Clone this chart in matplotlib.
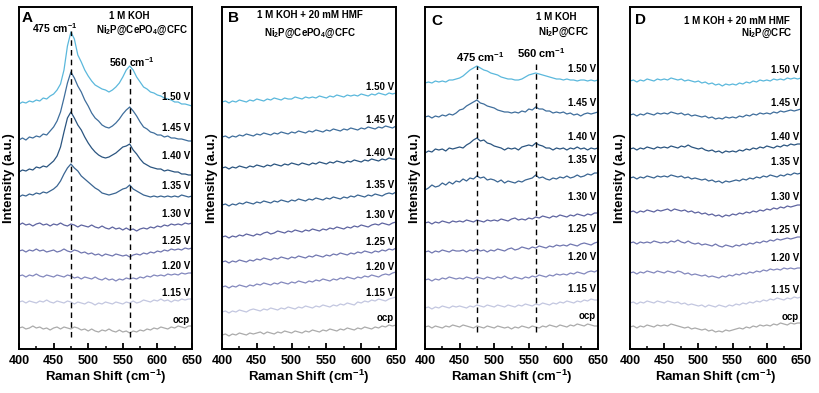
import matplotlib
matplotlib.use('Agg')
import matplotlib.pyplot as plt
from matplotlib.ticker import MultipleLocator
import numpy as np

plt.rcParams['font.family'] = ['Liberation Sans', 'DejaVu Sans']
plt.rcParams['font.weight'] = 'bold'
plt.rcParams['mathtext.fontset'] = 'custom'
plt.rcParams['mathtext.rm'] = 'Liberation Sans:bold'
plt.rcParams['mathtext.it'] = 'Liberation Sans:bold'
plt.rcParams['mathtext.bf'] = 'Liberation Sans:bold'

# Raman shift grid (cm-1)
shift = np.arange(400, 651, 5)
potentials = ['1.50 V', '1.45 V', '1.40 V', '1.35 V', '1.30 V', '1.25 V', '1.20 V', '1.15 V', 'ocp']
colors = ['#5bb8dc', '#3f6e9c', '#2b5580', '#3a6592', '#5e64a0', '#7177b0', '#8388bd', '#c3c7e0', '#ababab']

# stacked spectra (a.u.), top to bottom in the order of `potentials`
spec_a = [
    [245, 247, 246, 248, 247, 249, 248, 251, 250, 253, 255, 259, 265, 279, 303, 317, 310, 294, 287, 279,
     273, 268, 264, 262, 260, 259, 257, 259, 262, 266, 272, 279, 283, 279, 272, 267, 262, 260, 257, 256,
     254, 253, 251, 250, 249, 247, 247, 245, 245, 244, 243],
    [209, 211, 209, 212, 211, 213, 212, 215, 214, 218, 222, 228, 237, 251, 266, 277, 271, 263, 257, 249,
     243, 236, 231, 228, 224, 222, 221, 223, 226, 230, 235, 239, 242, 238, 233, 227, 222, 220, 217, 216,
     214, 214, 212, 213, 211, 211, 210, 210, 209, 208, 208],
    [177, 179, 178, 180, 179, 182, 181, 183, 182, 185, 188, 193, 202, 217, 231, 237, 231, 224, 219, 212,
     206, 201, 197, 194, 192, 191, 192, 194, 196, 199, 202, 203, 205, 199, 195, 190, 186, 184, 182, 181,
     180, 180, 178, 179, 178, 177, 177, 175, 175, 174, 174],
    [152, 154, 153, 155, 154, 156, 155, 157, 156, 158, 160, 163, 168, 175, 181, 185, 181, 178, 173, 170,
     167, 164, 161, 159, 156, 155, 154, 155, 156, 158, 160, 161, 164, 160, 158, 156, 154, 153, 152, 153,
     152, 153, 152, 153, 152, 153, 152, 154, 153, 152, 153],
    [124, 126, 124, 125, 123, 125, 126, 124, 125, 123, 125, 124, 126, 124, 123, 125, 124, 122, 124, 123,
     122, 124, 122, 121, 123, 121, 120, 122, 120, 121, 119, 121, 119, 120, 118, 120, 121, 120, 122, 121,
     123, 122, 124, 123, 125, 124, 125, 124, 126, 125, 126],
    [98, 99, 97, 99, 98, 100, 98, 99, 97, 98, 99, 97, 98, 100, 98, 97, 99, 98, 96, 97,
     95, 96, 94, 95, 93, 95, 94, 93, 95, 94, 93, 94, 92, 94, 95, 94, 96, 95, 97, 96,
     98, 97, 99, 98, 100, 99, 100, 99, 101, 100, 101],
    [73, 74, 72, 74, 73, 75, 73, 72, 74, 73, 72, 74, 73, 72, 74, 73, 71, 72, 70, 72,
     71, 70, 72, 70, 69, 71, 69, 70, 68, 70, 69, 71, 70, 71, 70, 72, 71, 73, 72, 74,
     73, 74, 73, 75, 74, 75, 74, 76, 75, 76, 76],
    [47, 48, 46, 48, 47, 46, 48, 47, 49, 47, 46, 48, 47, 46, 48, 47, 45, 47, 46, 45,
     47, 46, 44, 46, 45, 47, 46, 45, 47, 46, 45, 47, 46, 48, 46, 47, 49, 48, 47, 49,
     48, 50, 48, 49, 47, 49, 48, 50, 49, 50, 50],
    [21, 22, 20, 21, 23, 21, 22, 20, 21, 19, 21, 22, 20, 22, 21, 20, 22, 21, 19, 20,
     18, 20, 18, 17, 19, 18, 20, 18, 17, 19, 17, 18, 16, 18, 17, 19, 18, 20, 19, 21,
     20, 22, 21, 20, 22, 21, 23, 22, 21, 23, 23],
]

spec_b = [
    [247, 248, 246, 248, 247, 249, 248, 247, 249, 248, 250, 249, 248, 250, 249, 251, 250, 249, 251, 250,
     250, 252, 251, 250, 252, 251, 252, 251, 253, 252, 251, 253, 252, 254, 253, 252, 254, 253, 254, 253,
     255, 254, 253, 255, 254, 256, 255, 254, 256, 255, 256],
    [212, 213, 211, 213, 212, 214, 213, 215, 214, 213, 215, 214, 216, 215, 214, 216, 215, 217, 216, 215,
     217, 216, 218, 217, 216, 218, 217, 219, 218, 217, 219, 218, 220, 219, 218, 220, 219, 221, 220, 219,
     221, 220, 222, 221, 220, 222, 221, 223, 222, 221, 223],
    [181, 182, 180, 182, 181, 183, 182, 181, 183, 182, 184, 183, 182, 184, 183, 185, 184, 183, 185, 184,
     186, 185, 184, 186, 185, 184, 186, 185, 187, 186, 185, 187, 186, 188, 187, 186, 188, 187, 189, 188,
     187, 189, 188, 190, 189, 188, 190, 189, 191, 190, 190],
    [144, 145, 143, 145, 144, 146, 145, 147, 146, 145, 147, 146, 148, 147, 146, 148, 147, 149, 148, 147,
     149, 148, 150, 149, 148, 150, 149, 151, 150, 149, 151, 150, 152, 151, 150, 152, 151, 153, 152, 154,
     153, 152, 154, 153, 155, 154, 153, 155, 156, 155, 157],
    [112, 113, 111, 113, 112, 114, 113, 115, 114, 113, 115, 114, 116, 117, 115, 116, 118, 117, 116, 118,
     117, 119, 118, 117, 119, 118, 120, 119, 118, 120, 119, 121, 120, 122, 121, 120, 122, 121, 123, 122,
     124, 123, 122, 124, 125, 124, 126, 125, 124, 126, 127],
    [87, 88, 86, 88, 87, 89, 88, 87, 89, 88, 90, 89, 91, 90, 89, 91, 90, 92, 91, 90,
     92, 91, 93, 92, 91, 93, 92, 94, 93, 92, 94, 93, 95, 94, 96, 95, 94, 96, 95, 97,
     96, 98, 97, 96, 98, 97, 99, 98, 100, 99, 101],
    [62, 63, 61, 63, 62, 64, 63, 62, 64, 63, 65, 64, 66, 65, 64, 66, 65, 67, 66, 65,
     67, 66, 68, 67, 66, 68, 67, 69, 68, 70, 69, 68, 70, 69, 71, 70, 72, 71, 70, 72,
     71, 73, 72, 74, 73, 72, 74, 75, 74, 76, 77],
    [37, 38, 36, 38, 37, 39, 38, 37, 39, 40, 39, 38, 40, 39, 41, 40, 39, 41, 40, 42,
     41, 40, 42, 41, 43, 42, 41, 43, 42, 44, 43, 42, 44, 43, 45, 44, 46, 45, 44, 47,
     46, 48, 47, 49, 48, 50, 49, 48, 50, 51, 52],
    [14, 15, 13, 15, 14, 16, 15, 14, 16, 15, 16, 17, 15, 17, 16, 15, 17, 16, 18, 17,
     16, 18, 17, 16, 18, 17, 19, 18, 17, 19, 18, 20, 19, 18, 20, 19, 21, 20, 19, 21,
     20, 22, 21, 20, 22, 21, 23, 22, 24, 23, 24],
]

spec_c = [
    [266, 267, 266, 268, 267, 268, 267, 269, 269, 270, 271, 273, 276, 279, 281, 283, 281, 279, 278, 276,
     275, 274, 272, 271, 270, 270, 269, 269, 270, 272, 274, 275, 276, 275, 274, 273, 272, 271, 270, 270,
     269, 270, 269, 269, 268, 269, 269, 268, 269, 268, 269],
    [232, 233, 231, 233, 232, 234, 233, 235, 234, 236, 239, 240, 243, 245, 247, 249, 246, 245, 243, 242,
     241, 239, 238, 237, 237, 236, 237, 236, 238, 237, 240, 239, 242, 240, 240, 238, 238, 236, 237, 236,
     237, 235, 236, 234, 235, 233, 235, 236, 235, 236, 237],
    [196, 198, 197, 200, 199, 200, 198, 201, 200, 201, 202, 201, 204, 206, 209, 211, 208, 209, 206, 205,
     203, 202, 201, 199, 201, 200, 201, 199, 202, 203, 204, 203, 206, 204, 203, 201, 201, 199, 201, 200,
     201, 199, 201, 200, 202, 200, 201, 199, 201, 200, 201],
    [159, 161, 164, 162, 163, 166, 164, 167, 165, 168, 167, 170, 168, 171, 170, 173, 171, 172, 169, 170,
     169, 167, 169, 166, 168, 167, 166, 168, 167, 169, 170, 171, 174, 171, 172, 170, 169, 171, 170, 172,
     171, 173, 171, 172, 174, 172, 173, 175, 174, 176, 176],
    [126, 127, 125, 127, 126, 128, 127, 126, 128, 127, 128, 127, 129, 128, 127, 129, 128, 127, 129, 128,
     129, 128, 130, 129, 128, 130, 131, 129, 130, 129, 131, 130, 132, 131, 133, 132, 131, 133, 132, 134,
     133, 132, 134, 133, 135, 134, 133, 135, 134, 136, 136],
    [97, 98, 96, 98, 97, 99, 98, 97, 99, 98, 98, 99, 97, 99, 98, 100, 98, 99, 97, 99,
     98, 100, 99, 98, 100, 101, 99, 100, 102, 101, 100, 102, 101, 103, 102, 101, 103, 102, 104, 103,
     104, 103, 105, 104, 103, 105, 106, 105, 104, 106, 107],
    [69, 70, 68, 70, 69, 71, 70, 72, 71, 70, 71, 70, 72, 71, 70, 72, 71, 70, 72, 71,
     70, 72, 71, 73, 71, 70, 72, 71, 70, 72, 71, 73, 72, 74, 73, 72, 74, 73, 75, 74,
     75, 74, 76, 75, 77, 76, 75, 77, 78, 77, 79],
    [41, 42, 40, 42, 41, 43, 42, 41, 43, 42, 43, 42, 41, 43, 42, 44, 43, 42, 44, 43,
     42, 44, 43, 42, 44, 43, 42, 44, 43, 45, 44, 43, 45, 44, 46, 45, 44, 46, 45, 47,
     46, 48, 47, 46, 48, 47, 49, 48, 50, 49, 49],
    [22, 23, 21, 23, 22, 21, 23, 22, 24, 23, 22, 24, 23, 22, 21, 23, 22, 21, 23, 22,
     21, 23, 22, 21, 22, 20, 22, 21, 23, 22, 21, 23, 22, 21, 23, 22, 24, 23, 22, 24,
     23, 22, 24, 23, 25, 24, 23, 25, 24, 23, 23],
]

spec_d = [
    [268, 269, 267, 269, 268, 270, 269, 268, 270, 269, 270, 269, 271, 270, 269, 270, 268, 269, 268, 267,
     268, 266, 267, 265, 266, 264, 265, 263, 265, 264, 265, 264, 266, 265, 267, 266, 268, 267, 269, 268,
     269, 268, 270, 269, 270, 269, 271, 270, 271, 270, 271],
    [234, 235, 233, 235, 234, 236, 235, 234, 236, 235, 236, 235, 237, 236, 235, 236, 234, 235, 233, 234,
     233, 232, 233, 231, 232, 230, 231, 230, 232, 231, 232, 231, 233, 232, 234, 233, 235, 234, 236, 235,
     236, 235, 237, 236, 238, 237, 238, 239, 238, 239, 240],
    [200, 201, 199, 201, 200, 202, 201, 200, 202, 201, 202, 201, 203, 202, 201, 203, 202, 204, 202, 201,
     200, 201, 199, 198, 199, 197, 198, 196, 198, 197, 198, 197, 199, 198, 200, 199, 201, 200, 202, 201,
     203, 202, 201, 203, 202, 204, 203, 205, 204, 205, 205],
    [171, 172, 170, 172, 171, 173, 172, 171, 173, 172, 173, 172, 174, 173, 172, 173, 171, 172, 170, 171,
     170, 169, 170, 168, 169, 167, 168, 166, 168, 167, 168, 169, 168, 170, 169, 171, 170, 172, 171, 173,
     172, 174, 173, 172, 174, 173, 175, 174, 176, 175, 176],
    [137, 138, 136, 138, 137, 139, 138, 137, 139, 138, 139, 140, 138, 140, 139, 138, 139, 137, 138, 136,
     137, 135, 136, 134, 135, 133, 134, 132, 134, 133, 135, 134, 136, 135, 137, 136, 138, 137, 139, 138,
     140, 139, 141, 140, 142, 141, 143, 142, 143, 144, 144],
    [106, 107, 105, 107, 106, 107, 106, 108, 107, 106, 107, 106, 108, 107, 109, 107, 106, 108, 106, 105,
     106, 104, 105, 104, 103, 105, 103, 102, 104, 103, 102, 104, 103, 105, 104, 106, 105, 107, 106, 108,
     107, 109, 108, 110, 109, 110, 111, 110, 111, 112, 112],
    [76, 77, 75, 77, 76, 78, 77, 76, 78, 77, 76, 78, 77, 76, 78, 77, 75, 76, 74, 75,
     74, 73, 74, 72, 73, 72, 71, 73, 72, 74, 73, 75, 74, 76, 75, 77, 76, 78, 77, 79,
     78, 80, 79, 80, 79, 81, 80, 81, 80, 81, 81],
    [46, 47, 45, 47, 46, 48, 47, 46, 48, 47, 46, 48, 47, 46, 47, 45, 46, 44, 45, 44,
     43, 44, 42, 44, 43, 42, 44, 43, 42, 44, 43, 45, 44, 46, 45, 47, 46, 48, 47, 49,
     48, 50, 49, 51, 50, 49, 51, 50, 52, 51, 52],
    [22, 23, 21, 23, 22, 24, 23, 22, 24, 23, 24, 23, 25, 24, 23, 22, 21, 22, 20, 21,
     20, 19, 20, 18, 19, 17, 18, 17, 19, 18, 19, 20, 21, 20, 22, 21, 23, 22, 24, 23,
     24, 23, 25, 24, 26, 25, 24, 26, 25, 26, 26],
]

label_y = {
    'A': [252, 221, 193, 163, 135, 108, 83, 56, 29],
    'B': [262, 229, 196, 164, 134, 107, 82, 56, 31],
    'C': [280, 246, 212, 189, 152, 120, 92, 60, 33],
    'D': [279, 246, 212, 187, 152, 119, 91, 59, 32],
}

panels = [
    ('A', spec_a, [(412, 331, 'A', 11), (560, 333, '1 M KOH', 7), (578, 319, 'Ni$_2$P@CePO$_4$@CFC', 7),
                   (451, 321, '475 cm$^{-1}$', 7.5), (563, 287, '560 cm$^{-1}$', 7.5)],
     [(475, 12, 318), (560, 12, 281)]),
    ('B', spec_b, [(416, 331, 'B', 11), (526, 334, '1 M KOH + 20 mM HMF', 7),
                   (526, 316, 'Ni$_2$P@CePO$_4$@CFC', 7)], []),
    ('C', spec_c, [(417, 328, 'C', 11), (589, 332, '1 M KOH', 7), (601, 317, 'Ni$_2$P@CFC', 7),
                   (480, 292, '475 cm$^{-1}$', 8), (568, 296, '560 cm$^{-1}$', 8)],
     [(475, 17, 283), (560, 17, 285)]),
    ('D', spec_d, [(415, 329, 'D', 11), (556, 328, '1 M KOH + 20 mM HMF', 7),
                   (600, 316, 'Ni$_2$P@CFC', 7)], []),
]

fig = plt.figure(figsize=(8.19, 3.93), dpi=100)
lefts = [19, 222, 425, 630]
widths = [173, 174, 173, 171]

for (name, spec, texts, dashes), left, width in zip(panels, lefts, widths):
    ax = fig.add_axes([left / 819, 44 / 393, width / 819, 342 / 393])
    for y, c in zip(spec, colors):
        ax.plot(shift, y, color=c, lw=0.9)
    for x, y0, y1 in dashes:
        ax.vlines(x, y0, y1, colors='black', linestyles=(0, (4, 3)), lw=1.0)
    for lab, ly in zip(potentials, label_y[name]):
        ax.text(647, ly, lab, ha='right', va='center', fontsize=7, fontweight='bold')
    for x, y, s, fs in texts:
        ax.text(x, y, s, ha='center', va='center', fontsize=fs, fontweight='bold')
    ax.set_xlim(400, 650)
    ax.set_ylim(0, 342)
    ax.set_yticks([])
    ax.xaxis.set_major_locator(MultipleLocator(50))
    ax.xaxis.set_minor_locator(MultipleLocator(25))
    ax.tick_params(axis='x', which='major', direction='in', length=4, width=1.3, labelsize=9, pad=4)
    ax.tick_params(axis='x', which='minor', direction='in', length=2.5, width=1.1)
    for lbl in ax.get_xticklabels():
        lbl.set_fontweight('bold')
    for sp in ax.spines.values():
        sp.set_linewidth(1.4)
    ax.set_xlabel('Raman Shift (cm$^{-1}$)', fontsize=9.5, fontweight='bold', labelpad=1)
    ax.set_ylabel('Intensity (a.u.)', fontsize=9.5, fontweight='bold', labelpad=3)

fig.savefig('out.png', dpi=100)
